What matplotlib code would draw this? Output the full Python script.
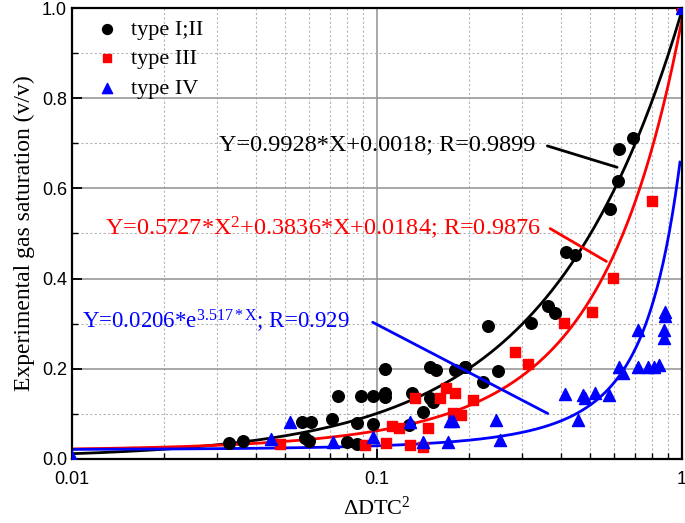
import numpy as np
import matplotlib
matplotlib.use("Agg")
import matplotlib.pyplot as plt
from matplotlib.ticker import FixedLocator, NullFormatter

plt.rcParams["mathtext.fontset"] = "custom"
plt.rcParams["mathtext.rm"] = "Liberation Serif"
plt.rcParams["mathtext.it"] = "Liberation Serif:italic"

# type I;II (black circles)
x_t12 = [0.0328, 0.0365, 0.057, 0.061, 0.058, 0.060, 0.071, 0.0746, 0.0795, 0.0859,
         0.0859, 0.0885, 0.0968, 0.0974, 0.106, 0.106, 0.106, 0.127, 0.130, 0.142,
         0.149, 0.153, 0.149, 0.156, 0.180, 0.194, 0.195, 0.222, 0.232, 0.250,
         0.319, 0.365, 0.383, 0.418, 0.446, 0.581, 0.615, 0.623, 0.692, 1.0]
y_t12 = [0.036, 0.040, 0.083, 0.083, 0.046, 0.040, 0.088, 0.140, 0.038, 0.079,
         0.033, 0.140, 0.140, 0.078, 0.199, 0.146, 0.138, 0.075, 0.147, 0.105,
         0.135, 0.126, 0.205, 0.197, 0.197, 0.205, 0.205, 0.171, 0.295, 0.196,
         0.302, 0.339, 0.323, 0.460, 0.452, 0.554, 0.617, 0.687, 0.711, 1.0]

# type III (red squares)
x_t3 = [0.048, 0.0912, 0.107, 0.112, 0.118, 0.128, 0.133, 0.142, 0.147, 0.161,
        0.169, 0.180, 0.178, 0.189, 0.207, 0.283, 0.312, 0.41, 0.506, 0.595, 0.795, 1.0]
y_t3 = [0.033, 0.031, 0.036, 0.073, 0.068, 0.031, 0.136, 0.026, 0.068, 0.135,
        0.157, 0.146, 0.101, 0.098, 0.131, 0.238, 0.211, 0.302, 0.327, 0.401, 0.572, 1.0]

# type IV (blue triangles)
x_t4 = [0.01, 0.0449, 0.052, 0.072, 0.0968, 0.128, 0.142, 0.171, 0.174, 0.178,
        0.245, 0.253, 0.412, 0.455, 0.475, 0.48, 0.52, 0.578, 0.623, 0.641,
        0.719, 0.719, 0.776, 0.812, 0.838, 0.87, 0.88, 0.88, 0.875, 1.0]
y_t4 = [0.005, 0.045, 0.083, 0.038, 0.048, 0.083, 0.038, 0.038, 0.085, 0.085,
        0.087, 0.043, 0.144, 0.086, 0.142, 0.135, 0.146, 0.142, 0.205, 0.19,
        0.286, 0.205, 0.205, 0.205, 0.208, 0.286, 0.327, 0.316, 0.268, 1.0]

fig = plt.figure(figsize=(6.85, 5.23), dpi=100)
ax = fig.add_axes([0.105, 0.1224, 0.8906, 0.8623])

ax.set_xscale("log")
ax.set_xlim(0.01, 1)
ax.set_ylim(0, 1)

# grid
ax.xaxis.set_minor_locator(FixedLocator([i * 0.01 for i in range(2, 10)] + [i * 0.1 for i in range(2, 10)]))
ax.xaxis.set_minor_formatter(NullFormatter())
ax.set_xticks([0.01, 0.1, 1])
ax.set_xticklabels(["0.01", "0.1", "1"])
ax.set_yticks([0, 0.2, 0.4, 0.6, 0.8, 1.0])
ax.set_yticklabels(["0.0", "0.2", "0.4", "0.6", "0.8", "1.0"])
ax.yaxis.set_minor_locator(FixedLocator([0.1, 0.3, 0.5, 0.7, 0.9]))
ax.grid(which="major", color="#9a9a9a", linestyle="-", linewidth=1.2)
ax.grid(which="minor", color="#b5b5b5", linestyle=(0, (2, 2)), linewidth=0.8)
ax.set_axisbelow(True)

ax.tick_params(which="both", direction="in", top=False, right=False)
ax.tick_params(which="major", length=7, width=1.3, labelsize=13)
ax.tick_params(which="minor", length=4, width=1.0)
ax.tick_params(axis="x", which="major", pad=9)
for lab in ax.get_xticklabels() + ax.get_yticklabels():
    lab.set_fontfamily("Liberation Sans")
for s in ax.spines.values():
    s.set_linewidth(1.6)

# fitted curves
xx = np.logspace(-2, 0, 400)
ax.plot(xx, 0.9928 * xx + 0.0018, color="black", lw=2)
ax.plot(xx, 0.5727 * xx**2 + 0.3836 * xx + 0.0184, color="red", lw=2)
xb = np.logspace(-2, np.log10(0.985), 400)
ax.plot(xb, 0.0206 * np.exp(3.517 * xb), color="blue", lw=2)

# points
ax.scatter(x_t12, y_t12, s=70, c="black", marker="o", label="type I;II", zorder=3)
ax.scatter(x_t3, y_t3, s=50, c="red", marker="s", label="type III", zorder=3)
ax.scatter(x_t4, y_t4, s=75, c="blue", marker="^", label="type IV", zorder=3)

serif = "Liberation Serif"
leg = ax.legend(loc="upper left", frameon=False, prop={"family": serif, "size": 16},
                handletextpad=0.3, labelspacing=0.4, borderaxespad=0.2,
                borderpad=0.3, markerscale=0.85, handlelength=1.6,
                bbox_to_anchor=(0.01, 1.0))

# equation labels with leader lines
ax.text(0.50, 0.697, "Y=0.9928*X+0.0018; R=0.9899", transform=ax.transAxes,
        ha="center", va="center", fontsize=17.5, family=serif, color="black")
ax.annotate("", xy=(0.898, 0.645), xytext=(0.775, 0.696), xycoords="axes fraction",
            textcoords="axes fraction", arrowprops=dict(arrowstyle="-", color="black", lw=2))
ax.text(0.412, 0.514, "Y=0.5727*X$^{\\mathrm{2}}$+0.3836*X+0.0184; R=0.9876", transform=ax.transAxes,
        ha="center", va="center", fontsize=17.5, family=serif, color="red")
ax.annotate("", xy=(0.880, 0.435), xytext=(0.780, 0.514), xycoords="axes fraction",
            textcoords="axes fraction", arrowprops=dict(arrowstyle="-", color="red", lw=2))
ax.text(0.016, 0.306, "Y=0.0206*e$^{\\mathrm{3.517*X}}$; R=0.929", transform=ax.transAxes,
        ha="left", va="center", fontsize=16.5, family=serif, color="blue")
ax.annotate("", xy=(0.784, 0.098), xytext=(0.489, 0.306), xycoords="axes fraction",
            textcoords="axes fraction", arrowprops=dict(arrowstyle="-", color="blue", lw=2))

ax.set_xlabel("\u0394DTC$^{\\mathrm{2}}$", fontsize=16, family=serif, labelpad=6)
ax.set_ylabel("Experimental gas saturation (v/v)", fontsize=17, family=serif, labelpad=5)

fig.savefig("out.png", dpi=100)
